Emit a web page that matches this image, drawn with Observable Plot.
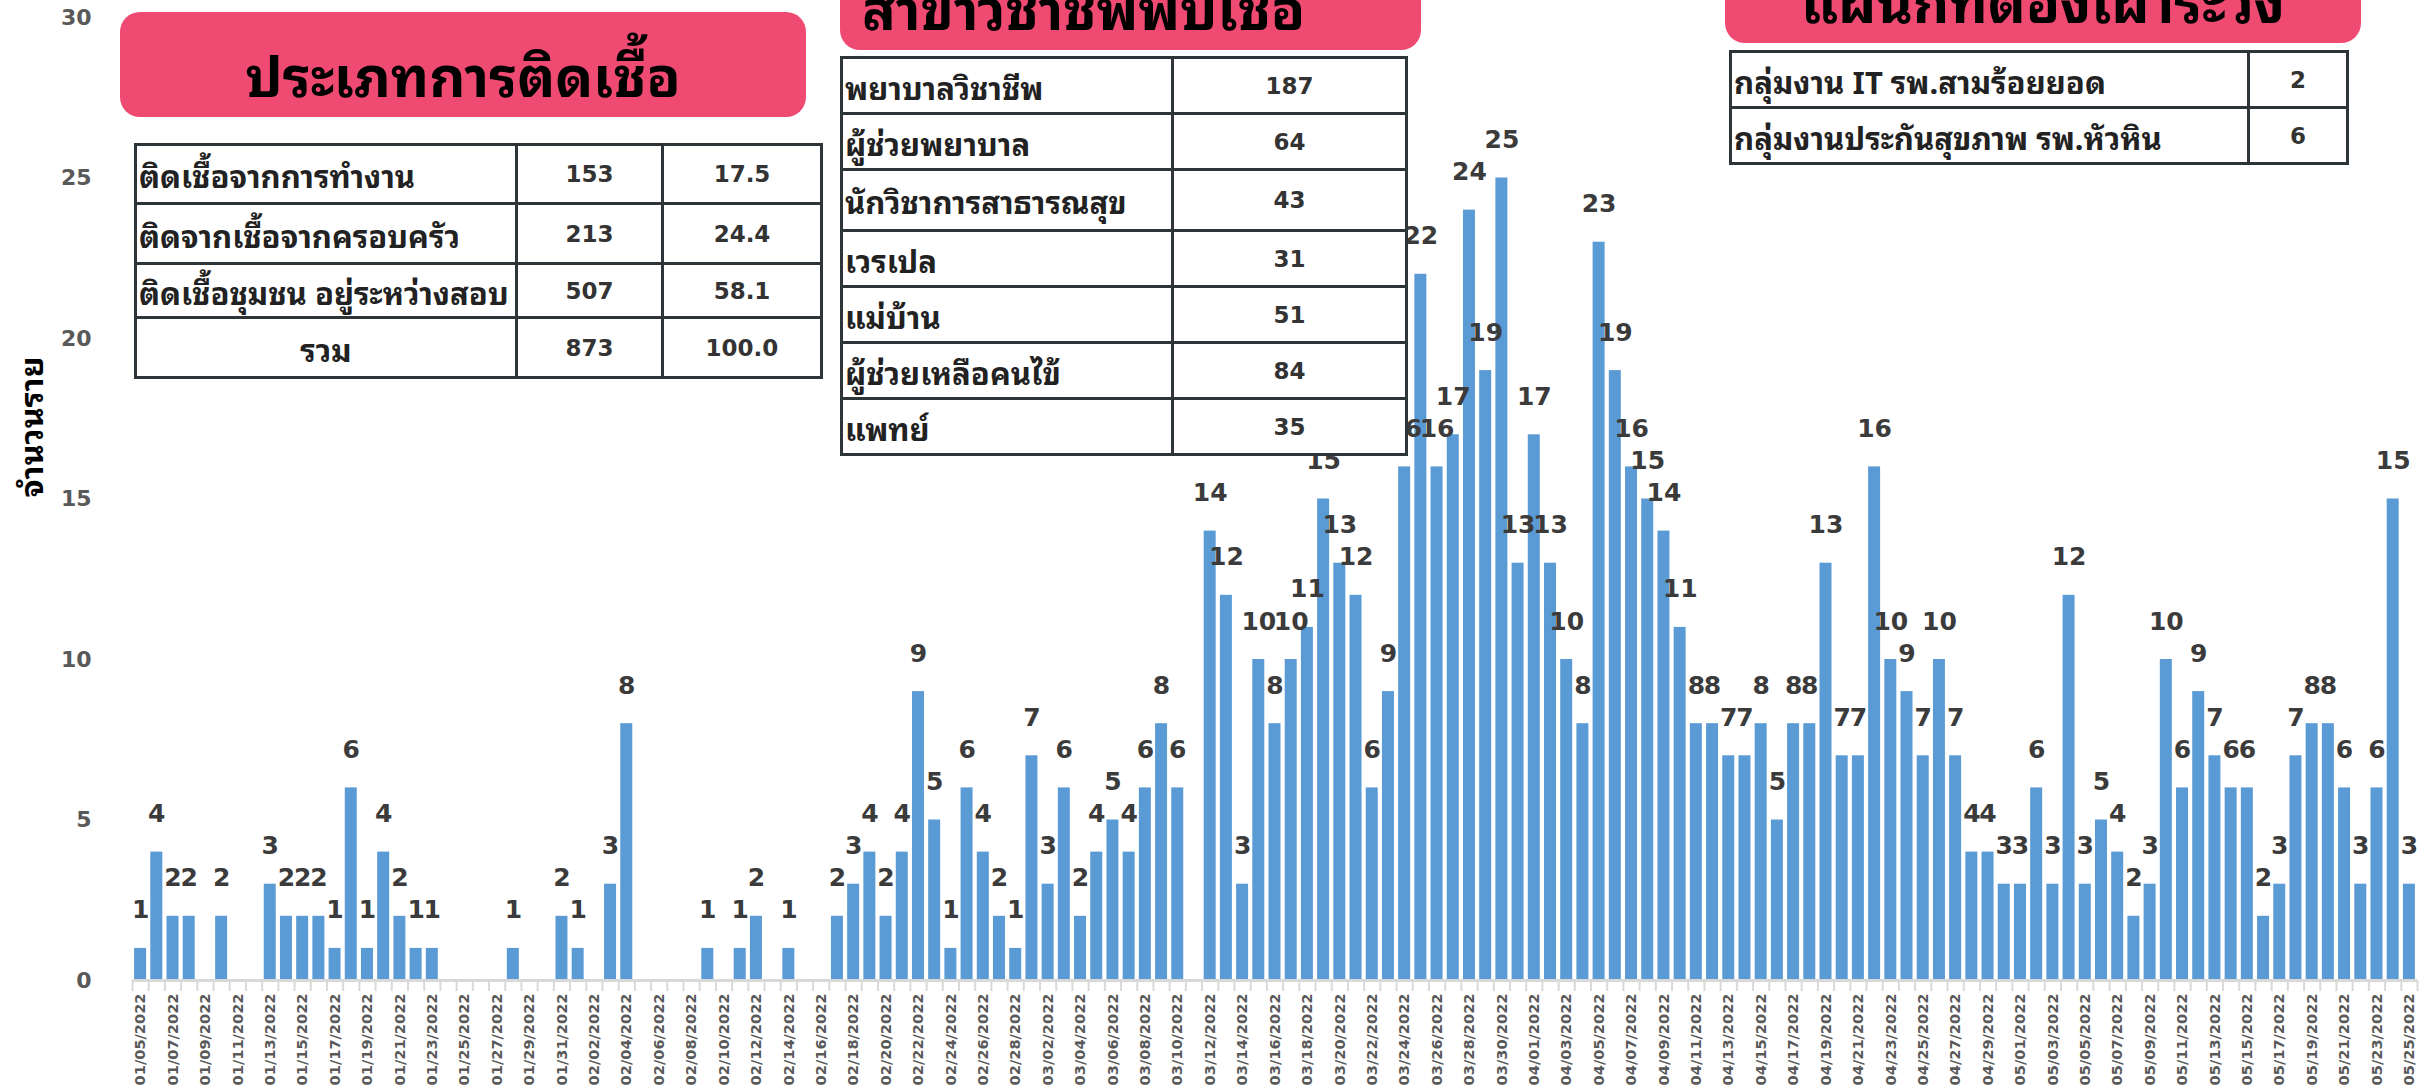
<!DOCTYPE html>
<html><head><meta charset="utf-8">
<script src="https://cdn.jsdelivr.net/npm/d3@7"></script>
<script src="https://cdn.jsdelivr.net/npm/@observablehq/plot@0.6"></script>
<style>
body{margin:0;background:#fff;}
#wrap{position:relative;width:2435px;height:1091px;overflow:hidden;background:#fff;}
.thai{font-family:"Noto Sans Thai Looped","Noto Sans Thai","Loma","Garuda","Tlwg Typo","Noto Sans",sans-serif;}
.banner{position:absolute;background:#ef4a72;border-radius:20px;height:105px;box-sizing:border-box;font-weight:bold;font-size:56px;color:#000;line-height:100px;padding-top:10px;white-space:nowrap;}
table.t{position:absolute;border-collapse:collapse;background:#fff;table-layout:fixed;}
table.t td{border:3px solid #2d3539;padding:0 2px;font-weight:bold;color:#222;white-space:nowrap;overflow:hidden;}
table.t td.lab{font-size:31px;text-align:left;}
table.t td.num{font-family:"DejaVu Sans",sans-serif;font-size:23px;text-align:center;color:#333;}
#ytitle{position:absolute;left:28px;top:427px;transform:translate(-50%,-50%) rotate(-90deg);font-weight:bold;font-size:32px;color:#000;white-space:nowrap;}
</style>
</head><body>
<div id="wrap"></div>
<script>
// ---- daily cases (consecutive days) ----
const monthCodes = ["01", "02", "03", "04", "05"];
const monthFirstDay = [5, 1, 1, 1, 1];
const casesJan = [1,4,2,2,0,2,0,0,3,2,2,2,1,6,1,4,2,1,1,0,0,0,0,1,0,0,2];
const casesFeb = [1,0,3,8,0,0,0,0,1,0,1,2,0,1,0,0,2,3,4,2,4,9,5,1,6,4,2,1];
const casesMar = [7,3,6,2,4,5,4,6,8,6,0,14,12,3,10,8,10,11,15,13,12,6,9,16,22,16,17,24,19,25,13];
const casesApr = [17,13,10,8,23,19,16,15,14,11,8,8,7,7,8,5,8,8,13,7,7,16,10,9,7,10,7,4,4,3];
const casesMay = [3,6,3,12,3,5,4,2,3,10,6,9,7,6,6,2,3,7,8,8,6,3,6,15,3];
const yTicks = [0, 5, 10, 15, 20, 25, 30];
const yTitle = "จำนวนราย";

// ---- tables ----
const typeTitle = "ประเภทการติดเชื้อ";
const typeLabels = ["ติดเชื้อจากการทำงาน", "ติดจากเชื้อจากครอบครัว", "ติดเชื้อชุมชน อยู่ระหว่างสอบ"];
const typeCounts = [153, 213, 507];
const typePercents = ["17.5", "24.4", "58.1"];
const typeTotalLabel = "รวม";
const typeTotal = 873;
const typeTotalPct = "100.0";

const profTitle = "สาขาวิชาชีพพบเชื้อ";
const profLabels = ["พยาบาลวิชาชีพ", "ผู้ช่วยพยาบาล", "นักวิชาการสาธารณสุข", "เวรเปล", "แม่บ้าน", "ผู้ช่วยเหลือคนไข้", "แพทย์"];
const profCounts = [187, 64, 43, 31, 51, 84, 35];

const deptTitle = "แผนกที่ต้องเฝ้าระวัง";
const deptLabels = ["กลุ่มงาน IT รพ.สามร้อยยอด", "กลุ่มงานประกันสุขภาพ รพ.หัวหิน"];
const deptCounts = [2, 6];

// ---- build table of days ----
const monthValues = [casesJan, casesFeb, casesMar, casesApr, casesMay];
const data = [];
monthValues.forEach((arr, mi) => {
  arr.forEach((v, i) => {
    const day = String(monthFirstDay[mi] + i).padStart(2, "0");
    data.push({date: `${monthCodes[mi]}/${day}/2022`, value: v});
  });
});
const dates = data.map(d => d.date);
const labelDates = dates.filter((d, i) => i % 2 === 0);

const W = 2435, H = 1091, ML = 132, MR = 18;
const step = (W - ML - MR) / dates.length;

const chart = Plot.plot({
  width: W, height: H,
  marginLeft: ML, marginRight: MR, marginTop: 17, marginBottom: 111,
  style: {fontFamily: "DejaVu Sans, sans-serif", background: "transparent"},
  x: {type: "band", domain: dates, paddingInner: 0.26, paddingOuter: 0.13, round: false, axis: null},
  y: {domain: [0, 30], axis: null},
  marks: [
    Plot.axisY({ticks: yTicks, tickSize: 0, tickPadding: 41, fontSize: 22, fontWeight: "bold", fill: "#595959", label: null}),
    Plot.barY(data, {x: "date", y: "value", fill: "#5b9bd5"}),
    Plot.ruleY([0], {stroke: "#d9d9d9", strokeWidth: 3}),
    Plot.axisX({ticks: dates, tickSize: 11, tickFormat: () => "", stroke: "#d9d9d9", strokeWidth: 2, dx: -step / 2, label: null}),
    Plot.axisX({ticks: dates.slice(-1), tickSize: 11, tickFormat: () => "", stroke: "#d9d9d9", strokeWidth: 2, dx: step / 2, label: null}),
    Plot.text(labelDates, {x: d => d, frameAnchor: "bottom", dy: 13, rotate: -90, textAnchor: "end", lineAnchor: "middle", fontSize: 14.6, fontWeight: "bold", fill: "#595959"}),
    Plot.text(data.filter(d => d.value > 0), {x: "date", y: "value", text: d => String(d.value), dy: -38, fontSize: 25, fontWeight: "bold", fill: "#3b3b3b"})
  ]
});

const wrap = document.getElementById("wrap");
chart.style.position = "absolute";
chart.style.left = "0px";
chart.style.top = "0px";
wrap.appendChild(chart);

function banner(text, left, top, width, padLeft, align) {
  const b = document.createElement("div");
  b.className = "banner thai";
  b.style.left = left + "px"; b.style.top = top + "px"; b.style.width = width + "px";
  b.style.textAlign = align; b.style.paddingLeft = padLeft + "px";
  b.textContent = text;
  wrap.appendChild(b);
}
function table(rows, left, top, colWidths, rowHeights) {
  const t = document.createElement("table");
  t.className = "t";
  t.style.left = left + "px"; t.style.top = top + "px";
  t.style.width = colWidths.reduce((a, b) => a + b, 0) + "px";
  const cg = document.createElement("colgroup");
  colWidths.forEach(w => { const c = document.createElement("col"); c.style.width = w + "px"; cg.appendChild(c); });
  t.appendChild(cg);
  rows.forEach((r, ri) => {
    const tr = document.createElement("tr");
    tr.style.height = rowHeights[ri] + "px";
    r.forEach(cell => {
      const td = document.createElement("td");
      td.className = cell.cls + (cell.cls === "lab" ? " thai" : "");
      if (cell.center) td.style.textAlign = "center";
      td.textContent = cell.text;
      tr.appendChild(td);
    });
    t.appendChild(tr);
  });
  wrap.appendChild(t);
}

banner(typeTitle, 120, 12, 686, 0, "center");
banner(profTitle, 840, -55, 581, 22, "left");
banner(deptTitle, 1725, -62, 636, 0, "center");

const typeRows = typeLabels.map((l, i) => [{text: l, cls: "lab"}, {text: typeCounts[i], cls: "num"}, {text: typePercents[i], cls: "num"}]);
typeRows.push([{text: typeTotalLabel, cls: "lab", center: true}, {text: typeTotal, cls: "num"}, {text: typeTotalPct, cls: "num"}]);
table(typeRows, 134, 143, [381, 146, 159], [59, 60, 54, 60]);

const profRows = profLabels.map((l, i) => [{text: l, cls: "lab"}, {text: profCounts[i], cls: "num"}]);
table(profRows, 840, 56, [331, 234], [56, 56, 61, 56, 56, 56, 56]);

const deptRows = deptLabels.map((l, i) => [{text: l, cls: "lab"}, {text: deptCounts[i], cls: "num"}]);
table(deptRows, 1729, 50, [518, 99], [56, 56]);

const yt = document.createElement("div");
yt.id = "ytitle"; yt.className = "thai";
yt.textContent = yTitle;
wrap.appendChild(yt);
</script>
</body></html>
